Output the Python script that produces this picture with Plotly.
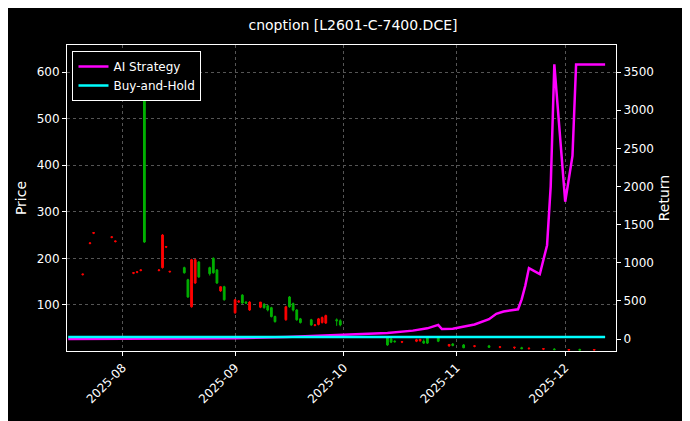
import plotly.graph_objects as go

# candles: date, open, high, low, close (red = up, green = down)
dates = ["2025-07-21", "2025-07-23", "2025-07-24", "2025-07-29", "2025-07-30",
         "2025-08-04", "2025-08-05", "2025-08-06", "2025-08-07", "2025-08-11",
         "2025-08-12", "2025-08-13", "2025-08-14", "2025-08-18", "2025-08-19",
         "2025-08-20", "2025-08-21", "2025-08-22", "2025-08-25", "2025-08-26",
         "2025-08-27", "2025-08-28", "2025-08-29", "2025-09-01", "2025-09-02",
         "2025-09-03", "2025-09-04", "2025-09-05", "2025-09-08", "2025-09-09",
         "2025-09-10", "2025-09-11", "2025-09-12", "2025-09-15", "2025-09-16",
         "2025-09-17", "2025-09-18", "2025-09-19", "2025-09-22", "2025-09-23",
         "2025-09-24", "2025-09-25", "2025-09-26", "2025-09-29", "2025-09-30",
         "2025-10-13", "2025-10-14", "2025-10-15", "2025-10-17", "2025-10-21",
         "2025-10-22", "2025-10-23", "2025-10-24", "2025-10-27", "2025-10-30",
         "2025-10-31", "2025-11-03", "2025-11-06", "2025-11-10", "2025-11-13",
         "2025-11-17", "2025-11-19", "2025-11-21", "2025-11-25", "2025-11-28",
         "2025-12-02", "2025-12-05", "2025-12-09"]
opens = [165, 232, 254, 245, 236, 168, 170, 174, 600, 174, 180, 224, 171, 180, 154,
         96, 147, 192, 180, 200, 175, 130, 139, 83, 106, 121, 106, 89, 95, 101,
         98, 94, 75, 68, 117, 103, 89, 70, 68, 56, 58, 62, 61, 68, 66,
         31, 27, 22, 20, 22, 23, 22, 31, 31, 12, 16, 14, 11, 12, 9,
         8, 8, 6, 5, 5, 3, 4, 3]
highs = [167, 234, 256, 247, 238, 170, 172, 176, 604, 176, 252, 226, 173, 182, 156,
         199, 199, 194, 182, 202, 177, 140, 141, 113, 110, 123, 108, 108, 106, 104,
         100, 96, 77, 98, 119, 105, 91, 72, 70, 59, 72, 75, 79, 71, 69,
         33, 29, 24, 22, 27, 27, 26, 33, 33, 16, 18, 16, 13, 14, 11,
         10, 10, 8, 7, 7, 5, 6, 5]
lows = [163, 230, 252, 243, 234, 166, 168, 172, 233, 172, 178, 222, 169, 167, 115,
        94, 145, 158, 163, 167, 145, 128, 109, 81, 104, 102, 102, 87, 93, 92,
        86, 73, 62, 66, 94, 86, 66, 60, 55, 54, 56, 60, 59, 55, 54,
        12, 18, 19, 18, 20, 21, 16, 16, 20, 10, 11, 7, 9, 8, 7,
        5, 5, 4, 3, 3, 2, 2, 2]
closes = [166, 233, 255, 246, 237, 169, 171, 175, 235, 175, 250, 225, 172, 169, 117,
          197, 197, 160, 167, 169, 147, 139, 111, 111, 108, 104, 104, 106, 106, 94,
          89, 75, 64, 96, 96, 89, 68, 62, 57, 57, 70, 73, 77, 66, 57,
          14, 20, 21, 21, 25, 26, 18, 18, 22, 15, 13, 8, 12, 9, 10,
          9, 6, 7, 6, 4, 4, 3, 4]

# AI strategy cumulative return
strat_dates = ["2025-07-17", "2025-08-01", "2025-08-15", "2025-09-01", "2025-09-15",
               "2025-10-01", "2025-10-13", "2025-10-20", "2025-10-24", "2025-10-27",
               "2025-10-28", "2025-10-31", "2025-11-03", "2025-11-06", "2025-11-10",
               "2025-11-12", "2025-11-14", "2025-11-18", "2025-11-19", "2025-11-20",
               "2025-11-21", "2025-11-24", "2025-11-26", "2025-11-27", "2025-11-28",
               "2025-12-01", "2025-12-03", "2025-12-04", "2025-12-08", "2025-12-12"]
strat_ret = [0, 2, 5, 10, 25, 60, 80, 110, 140, 185,
             130, 135, 160, 190, 260, 330, 360, 390, 520, 700,
             930, 850, 1230, 2000, 3600, 1800, 2400, 3600, 3600, 3600]

bh_dates = ["2025-07-17", "2025-09-01", "2025-10-13", "2025-11-10", "2025-12-12"]
bh_ret = [25, 25, 25, 25, 25]

fig = go.Figure()
fig.add_trace(go.Candlestick(
    x=dates, open=opens, high=highs, low=lows, close=closes,
    increasing=dict(line=dict(color="#ff0000", width=1), fillcolor="#ff0000"),
    decreasing=dict(line=dict(color="#00b000", width=1), fillcolor="#00b000"),
    whiskerwidth=0, showlegend=False,
))
fig.add_trace(go.Scatter(
    x=strat_dates, y=strat_ret, mode="lines", name="AI Strategy",
    line=dict(color="#ff00ff", width=2.5), yaxis="y2",
))
fig.add_trace(go.Scatter(
    x=bh_dates, y=bh_ret, mode="lines", name="Buy-and-Hold",
    line=dict(color="#00ffff", width=2.5), yaxis="y2",
))

grid = dict(showgrid=True, gridcolor="#555555", griddash="dot", gridwidth=0.5)
fig.update_layout(
    width=690, height=421,
    paper_bgcolor="black", plot_bgcolor="black",
    font=dict(family="DejaVu Sans", color="white", size=12),
    title=dict(text="cnoption [L2601-C-7400.DCE]", x=0.5, y=0.97,
               xanchor="center", font=dict(size=14)),
    margin=dict(l=59, r=82, t=37, b=78),
    xaxis=dict(type="date", range=["2025-07-16 16:00", "2025-12-15"],
               tickvals=["2025-08-01", "2025-09-01", "2025-10-01", "2025-11-01", "2025-12-01"],
               ticktext=["2025-08", "2025-09", "2025-10", "2025-11", "2025-12"],
               tickangle=-45, ticks="outside", ticklen=4, tickcolor="white",
               rangeslider=dict(visible=False), showline=True, linecolor="white",
               mirror=True, zeroline=False, **grid),
    yaxis=dict(title=dict(text="Price", standoff=6), range=[1, 658],
               tickvals=[100, 200, 300, 400, 500, 600], ticks="outside", ticklen=4,
               tickcolor="white", showline=True, linecolor="white", zeroline=False, **grid),
    yaxis2=dict(title=dict(text="Return", standoff=6), overlaying="y", side="right",
                range=[-157, 3854], tickvals=list(range(0, 3501, 500)),
                ticks="outside", ticklen=4, tickcolor="white", showgrid=False,
                showline=True, linecolor="white", zeroline=False),
    legend=dict(x=0.01, y=0.98, xanchor="left", yanchor="top",
                bgcolor="black", bordercolor="white", borderwidth=1,
                font=dict(size=12)),
)

fig.write_html("out.html")
